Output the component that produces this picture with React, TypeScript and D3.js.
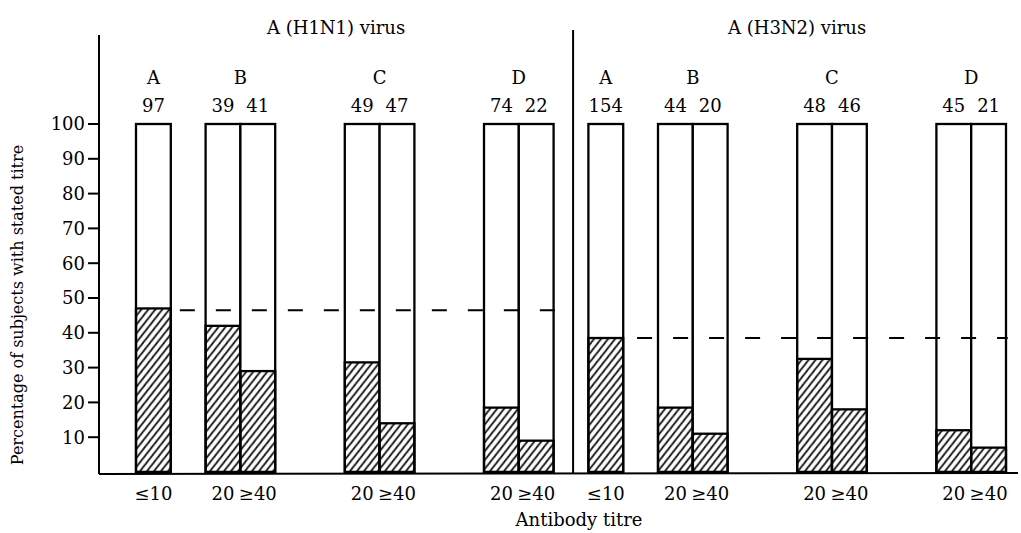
import React from "react";
import { scaleLinear, range } from "d3";

const width = 1021;
const height = 533;

const panelTitles = ["A (H1N1) virus", "A (H3N2) virus"];
const groupLetters = ["A", "B", "C", "D"];
const singleTitre = ["≤10"];
const pairTitre = ["20", "≥40"];

// subjects per bar
const h1n1Counts = [[97], [39, 41], [49, 47], [74, 22]];
const h3n2Counts = [[154], [44, 20], [48, 46], [45, 21]];

// hatched part of each bar (percent)
const h1n1Hatched = [[47], [42, 29], [31.5, 14], [18.5, 9]];
const h3n2Hatched = [[38.5], [18.5, 11], [32.5, 18], [12, 7]];

// dashed mean line per panel (percent)
const panelMeans = [46.5, 38.5];

const yTicks = range(10, 101, 10);

const font = "DejaVu Serif";

// layout in bar-width units
const gapBefore = [1, 1, 2, 2];

type Bar = { slot: number; count: number; hatched: number; label: string };
type Group = { letter: string; bars: Bar[] };
type Panel = { title: string; mean: number; groups: Group[]; start: number; end: number };

const buildPanels = (): Panel[] => {
  const series = [
    { counts: h1n1Counts, hatched: h1n1Hatched },
    { counts: h3n2Counts, hatched: h3n2Hatched },
  ];
  let slot = 0;
  return series.map((s, p) => {
    const start = slot;
    const groups = groupLetters.map((letter, g) => {
      if (g > 0) slot += gapBefore[g];
      else if (p > 0) slot += gapBefore[0];
      const labels = s.counts[g].length === 1 ? singleTitre : pairTitre;
      const bars = s.counts[g].map((count, i) => {
        const b = { slot, count, hatched: s.hatched[g][i], label: labels[i] };
        slot += 1;
        return b;
      });
      return { letter, bars };
    });
    return { title: panelTitles[p], mean: panelMeans[p], groups, start, end: slot };
  });
};

const panels = buildPanels();
const totalSlots = panels[panels.length - 1].end;

export default function App() {
  const axisX = 99;
  const dividerSlot = 12.56;

  const x = scaleLinear().domain([0, totalSlots]).range([136, 1006]);
  const bw = x(1) - x(0);
  const y = scaleLinear().domain([0, 100]).range([472, 124]);

  return (
    <svg
      width={width}
      height={height}
      style={{ position: "absolute", left: 0, top: 0, background: "#fff" }}
      fontFamily={font}
    >
      <defs>
        <pattern
          id="hatch"
          patternUnits="userSpaceOnUse"
          width={7}
          height={7}
          patternTransform="skewX(12)"
        >
          <path
            d="M-1,1 l2,-2 M0,7 l7,-7 M6,8 l2,-2"
            stroke="#000"
            strokeWidth={1.5}
          />
        </pattern>
      </defs>

      {/* y axis */}
      <line x1={axisX} x2={axisX} y1={35} y2={y(0) + 2} stroke="#000" strokeWidth={2} />
      {yTicks.map((t) => (
        <g key={t} transform={`translate(0,${y(t)})`}>
          <line x1={axisX - 11} x2={axisX} stroke="#000" strokeWidth={2} />
          <text x={axisX - 14} dy="0.36em" textAnchor="end" fontSize={18}>
            {t}
          </text>
        </g>
      ))}
      <text
        transform={`translate(23,${y(50) + 7}) rotate(-90)`}
        textAnchor="middle"
        fontSize={16}
      >
        Percentage of subjects with stated titre
      </text>

      {/* baseline and divider */}
      <line x1={axisX} x2={1018} y1={y(0) + 2} y2={y(0) + 1} stroke="#000" strokeWidth={2} />
      <line
        x1={x(dividerSlot)}
        x2={x(dividerSlot)}
        y1={30}
        y2={y(0) + 2}
        stroke="#000"
        strokeWidth={2}
      />

      {panels.map((panel, p) => {
        const left = p === 0 ? axisX : x(dividerSlot);
        const right = p === 0 ? x(dividerSlot) : width;
        const dashFrom = p === 0 ? x(1.26) : x(14.4);
        const dashTo = p === 0 ? x(dividerSlot) : x(totalSlots + 0.05);
        return (
          <g key={panel.title}>
            <text x={(left + right) / 2} y={28} dy="0.36em" textAnchor="middle" fontSize={18}>
              {panel.title}
            </text>

            {panel.groups.map((g) => {
              const first = g.bars[0].slot;
              const center = x(first + g.bars.length / 2);
              return (
                <g key={g.letter}>
                  <text x={center} y={78} dy="0.36em" textAnchor="middle" fontSize={18}>
                    {g.letter}
                  </text>
                  {g.bars.map((b) => (
                    <g key={b.slot}>
                      <text
                        x={x(b.slot) + bw / 2}
                        y={106}
                        dy="0.36em"
                        textAnchor="middle"
                        fontSize={18}
                      >
                        {b.count}
                      </text>
                      <rect
                        x={x(b.slot)}
                        y={y(100)}
                        width={bw}
                        height={y(0) - y(100)}
                        fill="#fff"
                        stroke="#000"
                        strokeWidth={2.3}
                      />
                      <rect
                        x={x(b.slot)}
                        y={y(b.hatched)}
                        width={bw}
                        height={y(0) - y(b.hatched)}
                        fill="url(#hatch)"
                        stroke="#000"
                        strokeWidth={2.3}
                      />
                      <text
                        x={x(b.slot) + bw / 2}
                        y={494}
                        dy="0.36em"
                        textAnchor="middle"
                        fontSize={18}
                      >
                        {b.label}
                      </text>
                    </g>
                  ))}
                </g>
              );
            })}

            <line
              x1={dashFrom}
              x2={dashTo}
              y1={y(panel.mean)}
              y2={y(panel.mean)}
              stroke="#000"
              strokeWidth={2}
              strokeDasharray="15 21"
            />
          </g>
        );
      })}

      <text x={579} y={520} dy="0.36em" textAnchor="middle" fontSize={18}>
        Antibody titre
      </text>
    </svg>
  );
}
